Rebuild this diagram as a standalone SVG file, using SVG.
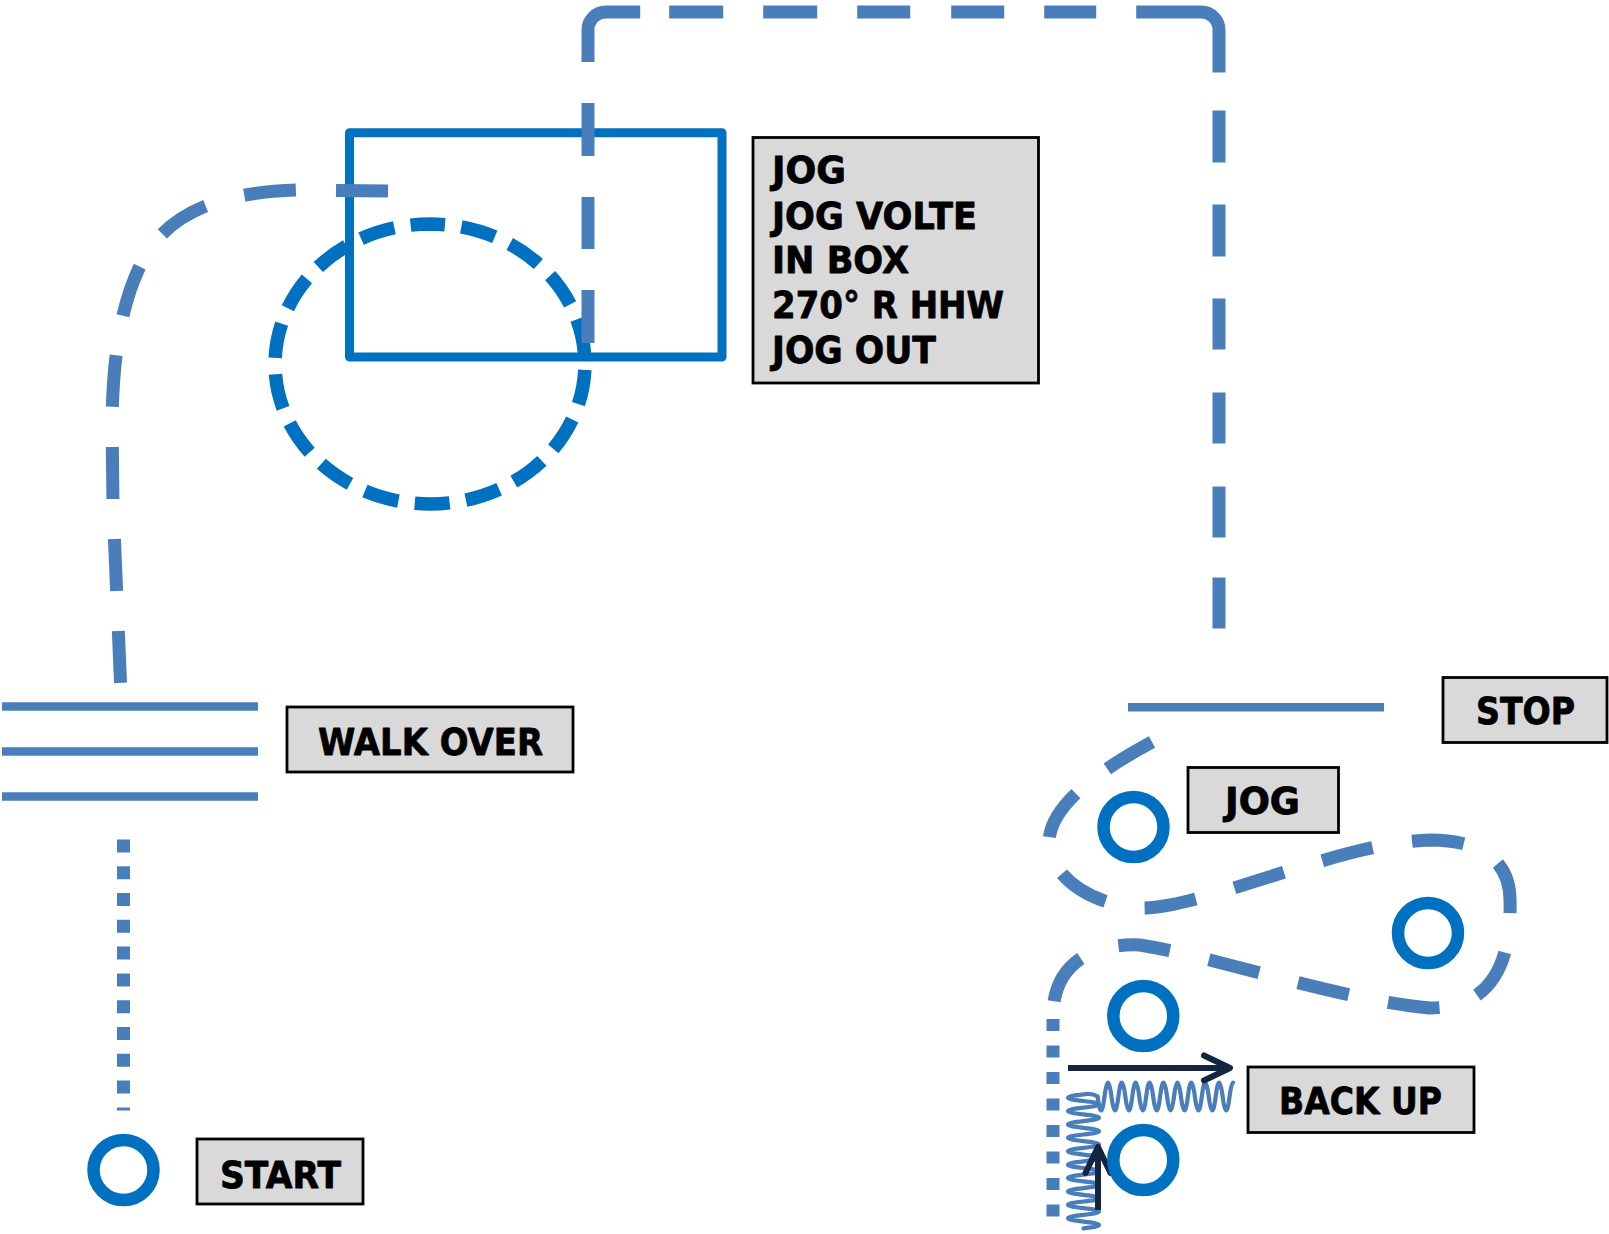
<svg xmlns="http://www.w3.org/2000/svg" width="1609" height="1234" viewBox="0 0 1609 1234">
<style>
.lbl{fill:#D9D9D9;stroke:#000;stroke-width:2.8}
.txt{font-family:"DejaVu Sans","Liberation Sans",sans-serif;font-weight:bold;font-size:37px;fill:#000;stroke:#000;stroke-width:0.8;stroke-linejoin:round}
.ring{fill:none;stroke:#0070C0;stroke-width:12.5}
.path{fill:none;stroke:#4A7EBB;stroke-width:13}
.bar{fill:none;stroke:#4A7EBB;stroke-width:8.5}
.dot{fill:none;stroke:#4A7EBB;stroke-width:13}
.spring{fill:none;stroke:#4A7EBB;stroke-width:4.2;stroke-linecap:round}
.arrow{fill:none;stroke:#132540;stroke-width:6}
</style>
<defs>
<marker id="chev" markerUnits="userSpaceOnUse" markerWidth="40" markerHeight="40" viewBox="-35 -20 40 40" refX="0" refY="0" orient="auto" overflow="visible">
<path d="M-26,-12.5 L0,0 L-26,12.5" fill="none" stroke="#132540" stroke-width="6" stroke-linecap="round" stroke-linejoin="round"/>
</marker>
</defs>
<rect width="1609" height="1234" fill="#fff"/>

<g id="box-area">
<rect x="349.5" y="132.7" width="372.5" height="224.3" fill="none" stroke="#0070C0" stroke-width="9" stroke-linejoin="round"/>
</g>
<g id="volte">
<path d="M 430 224 A 155 140 0 0 1 430 504 A 155 140 0 0 1 430 224" fill="none" stroke="#0070C0" stroke-width="13.5" stroke-dasharray="35 16.52" stroke-dashoffset="20"/>
</g>

<g id="walk-over-poles">
<line class="bar" x1="2" y1="706.5" x2="258" y2="706.5"/>
<line class="bar" x1="2" y1="751.5" x2="258" y2="751.5"/>
<line class="bar" x1="2" y1="796.5" x2="258" y2="796.5"/>
</g>
<g id="stop-line">
<line class="bar" x1="1128" y1="707.3" x2="1384" y2="707.3"/>
</g>

<g id="connectors">
<path class="path" d="M 588 343 L 588 30 A 18 18 0 0 1 606 12 L 1201 12 A 18 18 0 0 1 1219 30 L 1219 631" stroke-dasharray="53 41 52 41 53 41 94.3 29 54 40 54 40 53 41 53 40 52 40 135.3 38 52 42 52 42 51 43 51 43 51 40 51 60"/>
<path class="path" d="M 388 191 L 300 190 C 220 192 168 212 142 262 C 120 305 113 360 112 420 L 113 505 L 121 694" stroke-dasharray="52 40"/>
<path class="dot" d="M 123.5 839.4 L 123.5 1110.5" stroke-dasharray="13 13.8"/>
<path class="path" stroke-width="12.5" d="M 1152 742 C 1100 770 1050 805 1049 842 C 1049 875 1090 905 1140 908 C 1200 910 1340 842 1430 840 C 1480 840 1510 860 1510 900 C 1512 965 1490 1008 1430 1008 C 1340 1000 1220 958 1140 945 C 1090 943 1055 965 1053 1012" stroke-dasharray="52 40"/>
<path class="dot" d="M 1053 1019 L 1053 1217" stroke-dasharray="12 14.5"/>
<path class="spring" d="M 1097.6 1096.5 Q 1101.05 1124.5 1104.5 1096.5 T 1111.45 1096.5 T 1118.4 1096.5 T 1125.35 1096.5 T 1132.3 1096.5 T 1139.25 1096.5 T 1146.2 1096.5 T 1153.15 1096.5 T 1160.1 1096.5 T 1167.05 1096.5 T 1174 1096.5 T 1180.95 1096.5 T 1187.9 1096.5 T 1194.85 1096.5 T 1201.8 1096.5 T 1208.75 1096.5 T 1215.7 1096.5 T 1222.65 1096.5 T 1229.6 1096.5 Q 1231.35 1082.5 1233.1 1082.5"/>
<path class="spring" d="M 1097.6 1096.5 Q 1092 1093 1083.5 1094.3 Q 1052.5 1097.65 1083.5 1101 T 1083.5 1107.7 T 1083.5 1114.4 T 1083.5 1121.1 T 1083.5 1127.8 T 1083.5 1134.5 T 1083.5 1141.2 T 1083.5 1147.9 T 1083.5 1154.6 T 1083.5 1161.3 T 1083.5 1168 T 1083.5 1174.7 T 1083.5 1181.4 T 1083.5 1188.1 T 1083.5 1194.8 T 1083.5 1201.5 T 1083.5 1208.2 T 1083.5 1214.9 T 1083.5 1221.6 T 1083.5 1228.3"/>
<path class="arrow" d="M 1068 1068 L 1230 1068" marker-end="url(#chev)"/>
<path class="arrow" d="M 1098 1210 L 1098 1147" marker-end="url(#chev)"/>
</g>

<g id="start">
<circle class="ring" cx="123.5" cy="1170" r="30"/>
<rect class="lbl" x="197" y="1139" width="166" height="65"/>
<text class="txt" x="220" y="1188" textLength="121" lengthAdjust="spacingAndGlyphs">START</text>
</g>
<g id="walk-over">
<rect class="lbl" x="287" y="707" width="286" height="65"/>
<text class="txt" x="318" y="755" textLength="225" lengthAdjust="spacingAndGlyphs">WALK OVER</text>
</g>
<g id="jog-info">
<rect class="lbl" x="753" y="137.5" width="285.5" height="245.5"/>
<text class="txt" x="772" y="183" textLength="74" lengthAdjust="spacingAndGlyphs">JOG</text>
<text class="txt" x="772" y="228.5" textLength="205" lengthAdjust="spacingAndGlyphs">JOG VOLTE</text>
<text class="txt" x="772" y="273" textLength="137" lengthAdjust="spacingAndGlyphs">IN BOX</text>
<text class="txt" x="772" y="318" textLength="232" lengthAdjust="spacingAndGlyphs">270° R HHW</text>
<text class="txt" x="772" y="362.5" textLength="164" lengthAdjust="spacingAndGlyphs">JOG OUT</text>
</g>
<g id="stop">
<rect class="lbl" x="1443" y="677.5" width="164" height="65"/>
<text class="txt" x="1476" y="724" textLength="99" lengthAdjust="spacingAndGlyphs">STOP</text>
</g>
<g id="jog">
<circle class="ring" cx="1133.5" cy="827" r="30"/>
<rect class="lbl" x="1188" y="767.5" width="150.5" height="65"/>
<text class="txt" x="1225" y="814" textLength="75" lengthAdjust="spacingAndGlyphs">JOG</text>
</g>
<g id="cone-right">
<circle class="ring" cx="1428" cy="933" r="30"/>
</g>
<g id="cone-upper">
<circle class="ring" cx="1143.3" cy="1016" r="30"/>
</g>
<g id="cone-lower">
<circle class="ring" cx="1143.3" cy="1160" r="30"/>
</g>
<g id="back-up">
<rect class="lbl" x="1248" y="1067" width="226" height="65.5"/>
<text class="txt" x="1279" y="1114" textLength="163" lengthAdjust="spacingAndGlyphs">BACK UP</text>
</g>
</svg>
